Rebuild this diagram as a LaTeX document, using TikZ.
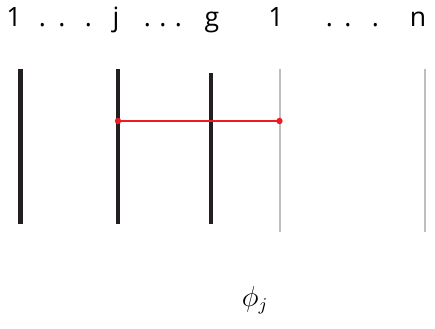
\documentclass[tikz,border=0pt]{standalone}
\usepackage{fontspec}
\setmainfont{Open Sans}
\usepackage{xcolor}
\usetikzlibrary{positioning}

\definecolor{nerofilo}{RGB}{35,31,32}
\definecolor{grigiofilo}{RGB}{190,190,190}
\definecolor{rossofilo}{RGB}{237,28,36}

\begin{document}
\begin{tikzpicture}[x=0.5pt, y=-0.5pt]
    % Stili
    \tikzstyle{filo}=[line width=2.2pt, draw=nerofilo]
    \tikzstyle{filogrigio}=[line width=1pt, draw=grigiofilo]
    \tikzstyle{legame}=[line width=1.3pt, draw=rossofilo]
    \tikzstyle{punto}=[circle, fill=rossofilo, inner sep=0pt, minimum size=3.2pt]
    \tikzstyle{etichetta}=[font=\fontsize{13.3}{16}\selectfont, inner sep=0pt, anchor=base]

    \useasboundingbox (0,0) rectangle (435,328);

    % Etichette in alto
    \node (e1) [etichetta] at (14,26) {1};
    \node (p1) [etichetta] at (65.5,26) {.\hspace{6.2pt}.\hspace{9.7pt}.};
    \node (ej) [etichetta] at (116,26) {j};
    \node (p2) [etichetta] at (163,26) {.\hspace{4.2pt}.\hspace{4.2pt}.};
    \node (eg) [etichetta] at (212,26) {g};
    \node (f1) [etichetta] at (276,26) {1};
    \node (p3) [etichetta] at (352.5,26) {.\hspace{5.7pt}.\hspace{10.2pt}.};
    \node (fn) [etichetta] at (418,26) {n};

    % Estremi dei fili
    \coordinate (a1) at (20.5,69);  \coordinate (b1) at (20.5,224);
    \coordinate (aj) at (118,69);   \coordinate (bj) at (118,224);
    \coordinate (ag) at (211,73);   \coordinate (bg) at (211,224);
    \coordinate (c1) at (279.5,69); \coordinate (d1) at (279.5,232);
    \coordinate (cn) at (424.5,69); \coordinate (dn) at (424.5,232);
    \coordinate (rj) at (118,121);  \coordinate (r1) at (279.5,121);

    % Fili
    \draw [filo] (a1) -- (b1);
    \draw [filo] (aj) -- (bj);
    \draw [filo] (ag) -- (bg);
    \draw [filogrigio] (c1) -- (d1);
    \draw [filogrigio] (cn) -- (dn);

    % Collegamento
    \draw [legame] (rj) -- (r1);
    \node (sj) [punto] at (rj) {};
    \node (s1) [punto] at (r1) {};

    % Nome della mappa
    \node (phi) [inner sep=0pt, font=\fontsize{13.5}{16}\selectfont] at (255,300) {$\phi_j$};

\end{tikzpicture}
\end{document}
